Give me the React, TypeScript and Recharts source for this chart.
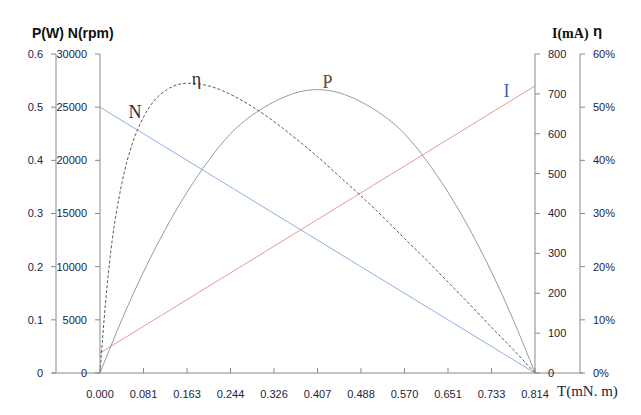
import React from 'react';
import { LineChart, Line, XAxis, YAxis, ReferenceDot } from 'recharts';

// ---- data ----
const torqueTicks = [0, 0.0814, 0.1628, 0.2442, 0.3256, 0.407, 0.4884, 0.5698, 0.6512, 0.7326, 0.814];
const powerTicks = [0, 0.1, 0.2, 0.3, 0.4, 0.5, 0.6];
const speedTicks = [0, 5000, 10000, 15000, 20000, 25000, 30000];
const currentTicks = [0, 100, 200, 300, 400, 500, 600, 700, 800];
const effTicks = [0, 10, 20, 30, 40, 50, 60];

const speedTorque = [0, 0.814];
const speedValues = [25000, 0];

const currentTorque = [0, 0.814];
const currentValues = [50, 720];

const powerTorque = [0, 0.0407, 0.0814, 0.1221, 0.1628, 0.2035, 0.2442, 0.2849, 0.3256, 0.3663, 0.407,
  0.4477, 0.4884, 0.5291, 0.5698, 0.6105, 0.6512, 0.6919, 0.7326, 0.7733, 0.814];
const powerValues = [0, 0.10, 0.19, 0.27, 0.34, 0.40, 0.45, 0.485, 0.51, 0.527, 0.533,
  0.527, 0.51, 0.485, 0.45, 0.40, 0.34, 0.27, 0.19, 0.10, 0];

const effTorque = [0, 0.0102, 0.0204, 0.0407, 0.061, 0.0814, 0.1221, 0.1628, 0.2035, 0.2442, 0.2849, 0.3256,
  0.3663, 0.407, 0.4477, 0.4884, 0.5291, 0.5698, 0.6105, 0.6512, 0.6919, 0.7326, 0.7733, 0.814];
const effValues = [0, 13, 23, 35.6, 43.3, 48.1, 53.1, 54.5, 54.0, 52.4, 50.1, 47.3,
  44.1, 40.7, 37.0, 33.3, 29.4, 25.3, 21.3, 17.1, 12.9, 8.6, 4.4, 0];

const curveLabelNames = ['N', 'η', 'P', 'I'];
const curveLabelTorque = [0.0655, 0.1806, 0.4257, 0.7607];
const curveLabelValues = [24600, 55.4, 0.549, 709];
const curveLabelAxes = ['n1', 'e1', 'p1', 'c1'];
const curveLabelColors = ['#1f2a50', '#302838', '#6a4a30', '#3a62b0'];

const speedData = speedTorque.map((t, i) => ({ t, n: speedValues[i] }));
const currentData = currentTorque.map((t, i) => ({ t, i: currentValues[i] }));
const powerData = powerTorque.map((t, i) => ({ t, p: powerValues[i] }));
const effData = effTorque.map((t, i) => ({ t, e: effValues[i] }));

// ---- styles ----
const AXIS = '#898989';
const TICK_TEXT = '#1c2440';
const SANS = '"Liberation Sans", Arial, sans-serif';
const SERIF = '"Liberation Serif", "Times New Roman", serif';
const tickStyle = { fontSize: 11, fontFamily: SANS, fill: TICK_TEXT };

const TorqueTick = (props: any) => {
  const { x, y, payload } = props;
  return (
    <g>
      <line x1={x} y1={y - 5} x2={x} y2={y} stroke={AXIS} strokeWidth={1} />
      <text x={x} y={y + 25} textAnchor="middle" fontSize={11} fontFamily={SANS} fill={TICK_TEXT}>
        {Number(payload.value).toFixed(3)}
      </text>
    </g>
  );
};

export default function App() {
  return (
    <LineChart width={625} height={399} margin={{ top: 46, right: 13, bottom: 4, left: 4 }}>
      <XAxis
        dataKey="t"
        type="number"
        domain={[0, 0.814]}
        ticks={torqueTicks}
        allowDataOverflow
        axisLine={false}
        tickLine={false}
        tickSize={0}
        tickMargin={0}
        height={30}
        tick={<TorqueTick />}
        interval={0}
      />
      <YAxis yAxisId="n1" orientation="left" width={44} domain={[0, 30000]} ticks={speedTicks}
        stroke={AXIS} tickSize={5} tickMargin={8} tick={tickStyle} interval={0} />
      <YAxis yAxisId="p1" orientation="left" width={44} domain={[0, 0.6]} ticks={powerTicks}
        stroke={AXIS} tickSize={5} tickMargin={8} tick={tickStyle} interval={0} />
      <YAxis yAxisId="c1" orientation="right" width={45} domain={[0, 800]} ticks={currentTicks}
        stroke={AXIS} tickSize={5} tickMargin={8} tick={tickStyle} interval={0} />
      <YAxis yAxisId="e1" orientation="right" width={40} domain={[0, 60]} ticks={effTicks}
        stroke={AXIS} tickSize={5} tickMargin={8} tick={tickStyle} interval={0}
        tickFormatter={(v: number) => `${v}%`} />

      <line x1={44} y1={365} x2={575} y2={365} stroke={AXIS} strokeWidth={1} />

      <Line data={speedData} dataKey="n" yAxisId="n1" type="linear" stroke="#8fb0de" strokeWidth={1}
        dot={false} isAnimationActive={false} />
      <Line data={currentData} dataKey="i" yAxisId="c1" type="linear" stroke="#e39a9a" strokeWidth={1}
        dot={false} isAnimationActive={false} />
      <Line data={powerData} dataKey="p" yAxisId="p1" type="natural" stroke="#9a9a9a" strokeWidth={1}
        dot={false} isAnimationActive={false} />
      <Line data={effData} dataKey="e" yAxisId="e1" type="monotone" stroke="#5a5a5a" strokeWidth={1}
        strokeDasharray="3 2" dot={false} isAnimationActive={false} />

      {curveLabelNames.map((name, k) => (
        <ReferenceDot key={name} x={curveLabelTorque[k]} y={curveLabelValues[k]} yAxisId={curveLabelAxes[k]}
          r={0} fill="none" stroke="none"
          label={{ value: name, position: 'center', fill: curveLabelColors[k], fontSize: 18, fontFamily: SERIF }} />
      ))}

      <text x={24} y={30} fontSize={14} fontWeight="bold" fontFamily={SANS} fill="#111">P(W) N(rpm)</text>
      <text x={544} y={30} fontSize={14} fontWeight="bold" fontFamily={SERIF} fill="#111">I(mA)</text>
      <text x={585} y={28} fontSize={15} fontWeight="bold" fontFamily={SANS} fill="#111">η</text>
      <text x={549} y={388} fontSize={15} fontFamily={SERIF} fill={TICK_TEXT}>T(mN. m)</text>
    </LineChart>
  );
}
